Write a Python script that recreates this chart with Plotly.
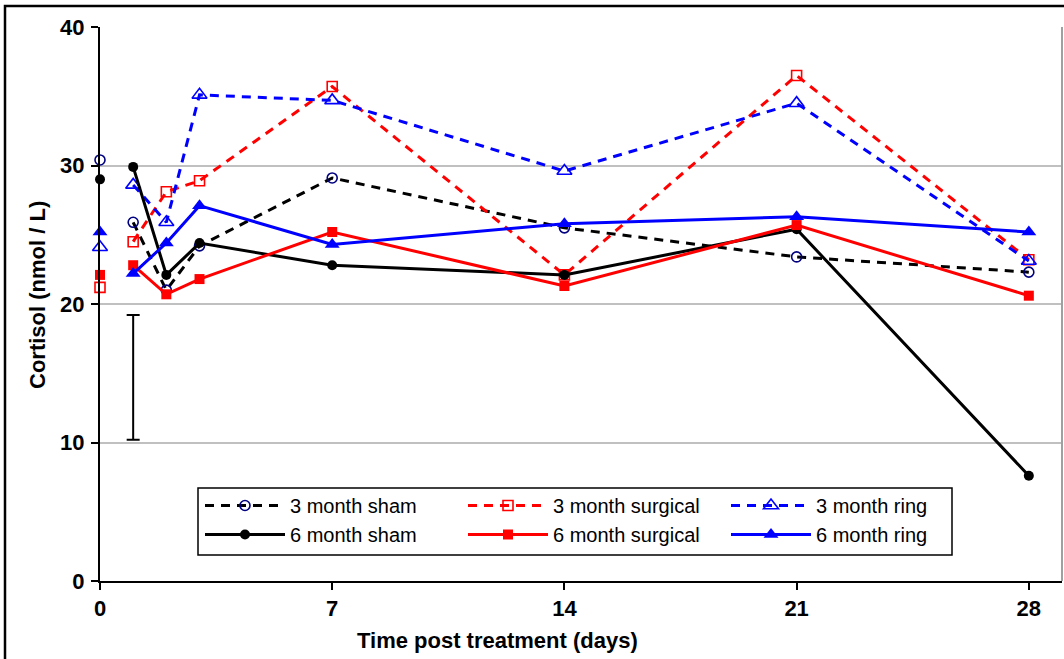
import plotly.graph_objects as go

# Sampling days after treatment (baseline at day 0 is shown as unconnected markers)
days = [1, 2, 3, 7, 14, 21, 28]
baseline_day = [0]

# Cortisol (nmol/L)
sham_3m = [25.9, 21.0, 24.2, 29.1, 25.5, 23.4, 22.3]
surgical_3m = [24.5, 28.1, 28.9, 35.7, 22.1, 36.5, 23.2]
ring_3m = [28.6, 25.9, 35.1, 34.7, 29.6, 34.5, 23.1]
sham_6m = [29.9, 22.1, 24.4, 22.8, 22.1, 25.4, 7.6]
surgical_6m = [22.8, 20.7, 21.8, 25.2, 21.3, 25.7, 20.6]
ring_6m = [22.2, 24.4, 27.1, 24.3, 25.8, 26.3, 25.2]

baseline = {
    "3 month sham": 30.4,
    "3 month surgical": 21.2,
    "3 month ring": 24.1,
    "6 month sham": 29.0,
    "6 month surgical": 22.1,
    "6 month ring": 25.2,
}

# Representative error bar
err_day = [1]
err_center = [14.7]
err_half = [4.5]

x_ticks = [0, 7, 14, 21, 28]
y_ticks = [0, 10, 20, 30, 40]

NAVY = "#000080"
RED = "#ff0000"
BLUE = "#0000ff"
BLACK = "#000000"
DASH = "9px,7px"

series = [
    ("3 month sham", sham_3m, BLACK, DASH, "circle-open", NAVY),
    ("3 month surgical", surgical_3m, RED, DASH, "square-open", RED),
    ("3 month ring", ring_3m, BLUE, DASH, "triangle-up-open", BLUE),
    ("6 month sham", sham_6m, BLACK, "solid", "circle", BLACK),
    ("6 month surgical", surgical_6m, RED, "solid", "square", RED),
    ("6 month ring", ring_6m, BLUE, "solid", "triangle-up", BLUE),
]

fig = go.Figure()

for name, vals, lcol, dash, sym, mcol in series:
    open_sym = sym.endswith("open")
    msize = 13 if sym.startswith("triangle") else 10
    marker = dict(symbol=sym, size=msize, color=mcol,
                  line=dict(color=mcol, width=1.6 if open_sym else 0))
    fig.add_trace(go.Scatter(
        x=days, y=vals, name=name, mode="lines+markers",
        line=dict(color=lcol, width=3, dash=dash),
        marker=marker, cliponaxis=False,
    ))
    fig.add_trace(go.Scatter(
        x=baseline_day, y=[baseline[name]], mode="markers",
        marker=marker, showlegend=False, cliponaxis=False,
    ))

fig.add_trace(go.Scatter(
    x=err_day, y=err_center, mode="markers",
    marker=dict(size=1, opacity=0),
    error_y=dict(type="data", array=err_half, visible=True,
                 color=BLACK, thickness=2, width=6.5),
    showlegend=False, cliponaxis=False,
))

FONT = "Liberation Sans, Arial, sans-serif"

# pixel -> paper helpers for the 962x554 plot area
def px_x(p):
    return (p - 100) / 962


def px_y(p):
    return (581 - p) / 554


fig.update_layout(
    width=1064, height=659,
    margin=dict(l=100, r=2, t=27, b=78),
    plot_bgcolor="white", paper_bgcolor="white",
    font=dict(family=FONT, color=BLACK),
    showlegend=True,
    legend=dict(
        orientation="h",
        x=px_x(200), y=px_y(486), xanchor="left", yanchor="top",
        bgcolor="rgba(0,0,0,0)", borderwidth=0,
        font=dict(family=FONT, size=20, color=BLACK),
        itemwidth=80, entrywidth=168, entrywidthmode="pixels",
        tracegroupgap=0,
    ),
    xaxis=dict(
        range=[0, 29], tickmode="array", tickvals=x_ticks,
        ticks="outside", ticklen=7, tickwidth=1.5, tickcolor=BLACK,
        showline=True, linecolor=BLACK, linewidth=2,
        showgrid=False, zeroline=False,
        tickfont=dict(family=FONT, size=22, color=BLACK, weight="bold"),
    ),
    yaxis=dict(
        range=[0, 40], tickmode="array", tickvals=y_ticks,
        ticks="outside", ticklen=7, tickwidth=1.5, tickcolor=BLACK,
        showline=True, linecolor=BLACK, linewidth=2,
        showgrid=True, gridcolor="#c0c0c0", gridwidth=2,
        zeroline=False, ticklabelstandoff=2,
        tickfont=dict(family=FONT, size=22, color=BLACK, weight="bold"),
    ),
    annotations=[
        dict(text="Time post treatment (days)", xref="paper", yref="paper",
             x=px_x(497), y=px_y(640),
             xanchor="center", yanchor="middle", showarrow=False,
             font=dict(family=FONT, size=22, color=BLACK, weight="bold")),
        dict(text="Cortisol (nmol / L)", xref="paper", yref="paper",
             x=px_x(37), y=px_y(295), textangle=-90,
             xanchor="center", yanchor="middle", showarrow=False,
             font=dict(family=FONT, size=22, color=BLACK, weight="bold")),
    ],
    shapes=[
        # right edge of the plot area
        dict(type="line", xref="paper", yref="paper", x0=1, x1=1, y0=0, y1=1,
             line=dict(color="#a0a0a0", width=2)),
        # legend frame
        dict(type="rect", xref="paper", yref="paper", layer="above",
             x0=px_x(198), x1=px_x(952), y0=px_y(555), y1=px_y(488),
             fillcolor="white", line=dict(color=BLACK, width=1.5)),
        # outer chart frame
        dict(type="rect", xref="paper", yref="paper",
             x0=px_x(5), x1=px_x(1068), y0=px_y(664), y1=px_y(6),
             line=dict(color=BLACK, width=2.5)),
    ],
)

fig.write_html("out.html")
